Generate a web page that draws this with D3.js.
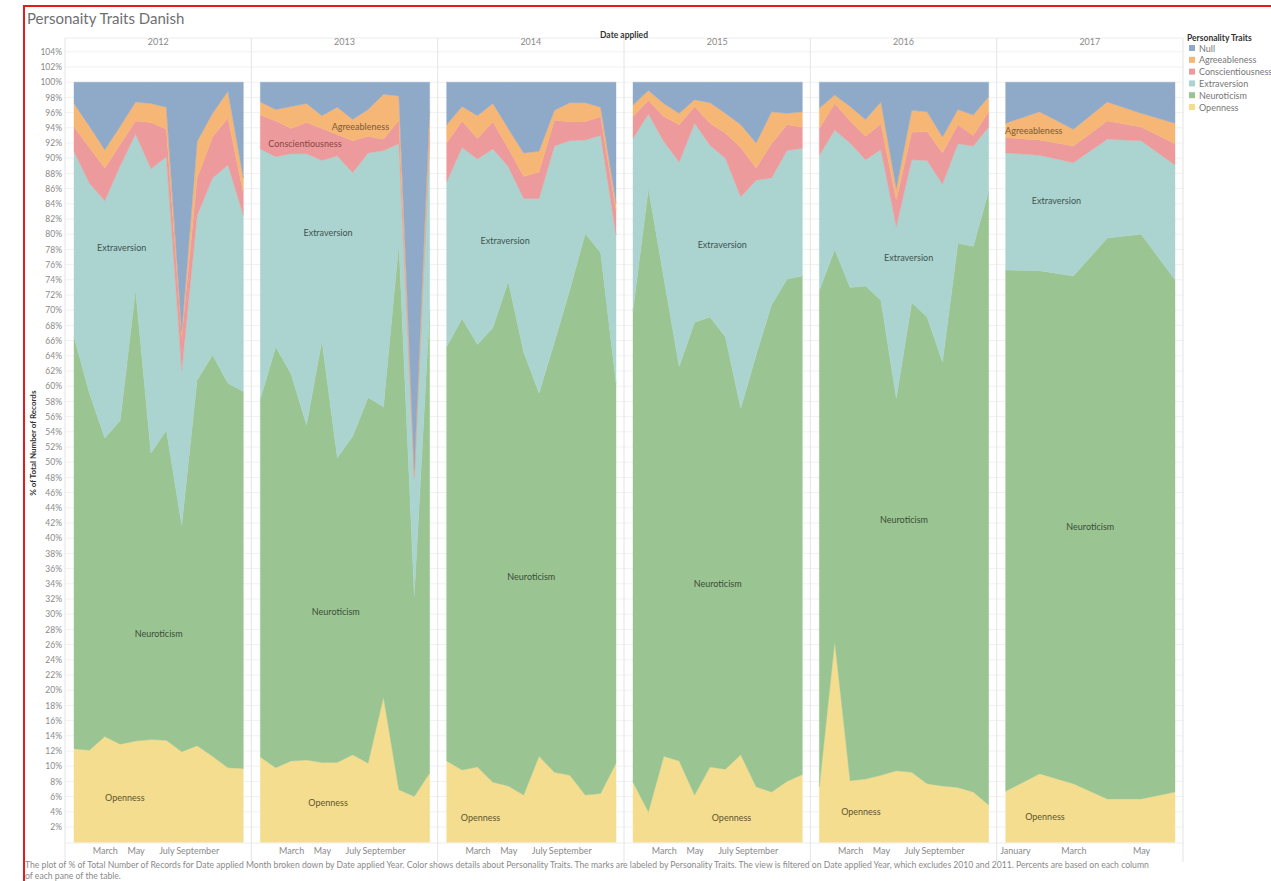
<!DOCTYPE html>
<html>
<head>
<meta charset="utf-8">
<script src="https://cdn.jsdelivr.net/npm/d3@7"></script>
<style>
  html, body { margin: 0; padding: 0; background: #fff; }
  svg { display: block; font-family: Lato, "Open Sans", sans-serif; }
</style>
</head>
<body>
<svg id="chart" width="1271" height="881"></svg>
<script>
// Share of applicants per personality trait, by month, for each application year (percent of column).
const years = ["2012", "2013", "2014", "2015", "2016", "2017"];
const monthNames = ["January", "February", "March", "April", "May", "June",
                    "July", "August", "September", "October", "November", "December"];
const monthsPerYear = [12, 12, 12, 12, 12, 6];
const traits = ["Openness", "Neuroticism", "Extraversion", "Conscientiousness", "Agreeableness", "Null"];
const legendOrder = ["Null", "Agreeableness", "Conscientiousness", "Extraversion", "Neuroticism", "Openness"];

// one row per year, one value per month
const openness = [
  [12.3, 12.1, 13.9, 12.9, 13.3, 13.5, 13.4, 11.9, 12.7, 11.3, 9.8, 9.7],
  [11.2, 9.8, 10.7, 10.8, 10.5, 10.5, 11.5, 10.4, 19.1, 6.9, 6.0, 9.1],
  [10.7, 9.5, 9.9, 7.9, 7.4, 6.2, 11.3, 9.2, 8.8, 6.2, 6.4, 10.4],
  [7.9, 4.0, 11.3, 10.7, 6.2, 9.9, 9.6, 11.5, 7.3, 6.6, 8.0, 8.9],
  [7.3, 26.4, 8.1, 8.3, 8.8, 9.4, 9.2, 7.7, 7.4, 7.2, 6.6, 4.9],
  [6.7, 9.0, 7.7, 5.7, 5.7, 6.6]
];
const neuroticism = [
  [54.2, 47.0, 39.3, 42.6, 59.4, 37.7, 40.8, 29.8, 48.1, 52.8, 50.6, 49.6],
  [47.1, 55.4, 50.9, 44.1, 55.5, 40.1, 41.9, 48.1, 38.2, 71.9, 26.4, 60.9],
  [54.5, 59.4, 55.6, 59.8, 66.4, 58.3, 47.8, 56.6, 63.9, 73.9, 71.2, 50.0],
  [62.1, 82.0, 63.0, 51.9, 62.2, 59.2, 56.9, 45.6, 56.8, 64.1, 66.1, 65.6],
  [65.3, 51.6, 64.9, 64.9, 62.5, 49.0, 61.8, 61.4, 55.8, 71.6, 71.8, 80.8],
  [68.6, 66.2, 66.8, 73.8, 74.3, 67.4]
];
const extraversion = [
  [24.4, 27.6, 31.2, 33.5, 20.5, 37.4, 36.0, 20.4, 21.7, 23.3, 28.7, 23.2],
  [32.9, 25.0, 29.0, 35.7, 23.7, 39.7, 34.7, 32.2, 33.7, 13.1, 15.6, 22.5],
  [21.7, 22.5, 24.4, 23.5, 15.1, 20.2, 25.6, 25.8, 19.6, 12.3, 15.4, 19.5],
  [22.6, 9.8, 17.9, 26.9, 26.2, 22.6, 23.5, 27.8, 23.0, 16.7, 16.9, 16.8],
  [17.8, 15.7, 19.0, 16.6, 19.8, 22.6, 18.8, 20.6, 23.4, 13.1, 13.2, 8.4],
  [15.4, 15.2, 14.9, 13.0, 12.3, 15.1]
];
const conscientiousness = [
  [3.2, 4.7, 4.3, 2.8, 1.7, 6.1, 3.6, 4.4, 4.9, 5.4, 6.2, 2.9],
  [4.5, 4.7, 3.3, 4.1, 4.2, 2.8, 4.2, 2.2, 1.5, 3.1, 0.5, 1.0],
  [5.1, 3.5, 2.7, 3.6, 2.4, 2.9, 3.5, 3.4, 2.5, 2.4, 2.5, 3.3],
  [2.9, 1.8, 3.3, 4.9, 2.2, 2.9, 3.3, 6.5, 1.6, 4.5, 3.4, 2.8],
  [3.5, 3.5, 2.9, 3.1, 3.4, 3.5, 3.6, 3.8, 4.1, 2.5, 1.4, 2.0],
  [2.0, 2.0, 2.2, 2.4, 1.8, 2.8]
];
const agreeableness = [
  [3.1, 2.8, 2.4, 2.4, 2.5, 2.5, 2.9, 0.7, 4.8, 3.1, 3.5, 2.0],
  [1.7, 1.5, 2.9, 2.5, 1.7, 3.6, 2.8, 3.5, 5.9, 3.2, 0.5, 2.8],
  [2.4, 1.9, 3.0, 2.4, 2.6, 3.1, 2.7, 1.3, 2.5, 2.5, 1.2, 0.9],
  [1.5, 1.3, 1.7, 1.5, 0.9, 2.7, 2.6, 3.0, 3.3, 4.2, 1.5, 2.0],
  [2.7, 1.1, 1.9, 2.2, 2.9, 1.5, 2.9, 2.6, 2.1, 2.0, 2.7, 2.0],
  [1.9, 3.7, 2.2, 2.5, 1.8, 2.7]
];
const nullTrait = [
  [2.8, 5.8, 8.9, 5.8, 2.6, 2.8, 3.3, 32.8, 7.8, 4.1, 1.2, 12.6],
  [2.6, 3.6, 3.2, 2.8, 4.4, 3.3, 4.9, 3.6, 1.6, 1.8, 51.0, 3.7],
  [5.6, 3.2, 4.4, 2.8, 6.1, 9.3, 9.1, 3.7, 2.7, 2.7, 3.3, 15.9],
  [3.0, 1.1, 2.8, 4.1, 2.3, 2.7, 4.1, 5.6, 8.0, 3.9, 4.1, 3.9],
  [3.4, 1.7, 3.2, 4.9, 2.6, 14.0, 3.7, 3.9, 7.2, 3.6, 4.3, 1.9],
  [5.4, 3.9, 6.2, 2.6, 4.1, 5.4]
];

// x-axis month labels (month index within each pane)
const axisMonths = [[2, 4, 6, 8], [2, 4, 6, 8], [2, 4, 6, 8], [2, 4, 6, 8], [2, 4, 6, 8], [0, 2, 4]];
const yTicks = d3.range(2, 105, 2);

// mark labels: pane, trait, month position, percent height
const markLabels = [
  ["2012", "Extraversion", 3.1, 78.2], ["2012", "Neuroticism", 5.5, 27.4], ["2012", "Openness", 3.3, 5.9],
  ["2013", "Conscientiousness", 2.9, 91.9], ["2013", "Agreeableness", 6.5, 94.2],
  ["2013", "Extraversion", 4.4, 80.2], ["2013", "Neuroticism", 4.9, 30.3], ["2013", "Openness", 4.4, 5.2],
  ["2014", "Extraversion", 3.8, 79.2], ["2014", "Neuroticism", 5.5, 35.0], ["2014", "Openness", 2.2, 3.3],
  ["2015", "Extraversion", 5.8, 78.6], ["2015", "Neuroticism", 5.5, 34.0], ["2015", "Openness", 6.4, 3.3],
  ["2016", "Extraversion", 5.8, 77.0], ["2016", "Neuroticism", 5.5, 42.4], ["2016", "Openness", 2.7, 4.0],
  ["2017", "Agreeableness", 0.83, 93.6], ["2017", "Extraversion", 1.5, 84.4],
  ["2017", "Neuroticism", 2.5, 41.5], ["2017", "Openness", 1.16, 3.4]
];

const colors = {
  "Null": "#8fa9c8",
  "Agreeableness": "#f5b676",
  "Conscientiousness": "#ec9a9b",
  "Extraversion": "#abd3cf",
  "Neuroticism": "#9ac592",
  "Openness": "#f4dd8f"
};
const labelColors = {
  "Null": "#3e5570",
  "Agreeableness": "#7d5a33",
  "Conscientiousness": "#8a4546",
  "Extraversion": "#3f5553",
  "Neuroticism": "#3c4d38",
  "Openness": "#5e5530"
};

const seriesByTrait = {
  "Openness": openness, "Neuroticism": neuroticism, "Extraversion": extraversion,
  "Conscientiousness": conscientiousness, "Agreeableness": agreeableness, "Null": nullTrait
};

const svg = d3.select("#chart");

// outer frame
svg.append("path")
  .attr("d", "M24,881 L24,6 L1271,6")
  .attr("fill", "none").attr("stroke", "#e8191c").attr("stroke-width", 2);

svg.append("text").attr("x", 27).attr("y", 24)
  .attr("font-size", 15).attr("fill", "#6f6f6f").text("Personaity Traits Danish");

const paneLeft = 65, paneRight = 1183, plotTop = 38, plotBottom = 843;
const xPane = d3.scaleBand().domain(years).range([paneLeft, paneRight]);
const y = d3.scaleLinear().domain([0, 100]).range([842.2, 82.2]);

// horizontal gridlines
svg.append("g").selectAll("line").data(yTicks).join("line")
  .attr("x1", paneLeft).attr("x2", paneRight)
  .attr("y1", d => y(d)).attr("y2", d => y(d))
  .attr("stroke", "#f1f1f1").attr("stroke-width", 1);

svg.append("line").attr("x1", paneLeft).attr("x2", paneRight)
  .attr("y1", plotTop).attr("y2", plotTop).attr("stroke", "#ececec");
svg.append("line").attr("x1", paneLeft).attr("x2", paneRight)
  .attr("y1", plotBottom).attr("y2", plotBottom).attr("stroke", "#ececec");

// column header
svg.append("text").attr("x", (paneLeft + paneRight) / 2).attr("y", 38)
  .attr("text-anchor", "middle").attr("font-size", 8.5).attr("font-weight", "bold")
  .attr("fill", "#333").text("Date applied");

// y axis
const yAxis = svg.append("g").attr("transform", `translate(${paneLeft - 1},0)`)
  .call(d3.axisLeft(y).tickValues(yTicks).tickSize(0).tickPadding(2).tickFormat(d => d + "%"));
yAxis.select(".domain").remove();
yAxis.selectAll("text").attr("font-size", 8.5).attr("fill", "#8a8a8a")
  .attr("font-family", "Lato, 'Open Sans', sans-serif");

svg.append("text")
  .attr("transform", `translate(36,${y(52.5)}) rotate(-90)`)
  .attr("text-anchor", "middle").attr("font-size", 8).attr("font-weight", "bold")
  .attr("fill", "#333").text("% of Total Number of Records");

const stack = d3.stack().keys(traits);

years.forEach((yr, yi) => {
  const x0 = xPane(yr);
  const n = monthsPerYear[yi];
  const x = d3.scaleLinear().domain([0, n - 1]).range([x0 + 9, x0 + xPane.bandwidth() - 8]);
  const rows = d3.range(n).map(i => {
    const r = { month: i };
    traits.forEach(t => { r[t] = seriesByTrait[t][yi][i]; });
    return r;
  });
  const layers = stack(rows);
  const area = d3.area()
    .x(d => x(d.data.month))
    .y0(d => y(d[0]))
    .y1(d => y(d[1]));

  const g = svg.append("g");
  g.selectAll("path").data(layers).join("path")
    .attr("d", area)
    .attr("fill", d => colors[d.key])
    .attr("stroke", d => colors[d.key])
    .attr("stroke-width", 0.4);

  // year header
  svg.append("text").attr("x", x0 + xPane.bandwidth() / 2).attr("y", 45)
    .attr("text-anchor", "middle").attr("font-size", 9).attr("fill", "#8a8a8a").text(yr);

  // month axis
  const ax = svg.append("g").attr("transform", `translate(0,${plotBottom})`)
    .call(d3.axisBottom(x).tickValues(axisMonths[yi]).tickSize(0).tickPadding(5)
      .tickFormat(i => monthNames[i]));
  ax.select(".domain").remove();
  ax.selectAll("text").attr("font-size", 9).attr("fill", "#8a8a8a")
    .attr("font-family", "Lato, 'Open Sans', sans-serif")
    .each(function () {
      const b = this.getBBox();
      const tx = x(+d3.select(this.parentNode).datum());
      if (tx + b.x < x0 + 3) d3.select(this).attr("dx", (x0 + 3) - (tx + b.x));
    });

  // mark labels
  markLabels.filter(l => l[0] === yr).forEach(([, trait, m, v]) => {
    svg.append("text").attr("x", x(m)).attr("y", y(v))
      .attr("text-anchor", "middle").attr("dominant-baseline", "central")
      .attr("font-size", 9).attr("fill", labelColors[trait]).text(trait);
  });
});

// pane separators
svg.append("g").selectAll("line").data(years.map(yr => xPane(yr)).concat([paneRight])).join("line")
  .attr("x1", d => d).attr("x2", d => d).attr("y1", plotTop).attr("y2", 862)
  .attr("stroke", "#e4e4e4").attr("stroke-width", 1);

// legend
const lg = svg.append("g").attr("transform", "translate(1187,0)");
lg.append("text").attr("x", 0).attr("y", 41).attr("font-size", 8.5).attr("font-weight", "bold")
  .attr("fill", "#333").text("Personality Traits");
legendOrder.forEach((t, i) => {
  const yy = 48 + i * 11.8;
  lg.append("rect").attr("x", 2).attr("y", yy - 3).attr("width", 6).attr("height", 6).attr("fill", colors[t]);
  lg.append("text").attr("x", 12).attr("y", yy).attr("dominant-baseline", "central")
    .attr("font-size", 9).attr("fill", "#777").text(t);
});

// caption
const caption = svg.append("text").attr("font-size", 8.65).attr("fill", "#8a8a8a");
caption.append("tspan").attr("x", 25).attr("y", 868)
  .text("The plot of % of Total Number of Records for Date applied Month broken down by Date applied Year.  Color shows details about Personality Traits.  The marks are labeled by Personality Traits. The view is filtered on Date applied Year, which excludes 2010 and 2011. Percents are based on each column");
caption.append("tspan").attr("x", 25).attr("y", 879).text("of each pane of the table.");
</script>
</body>
</html>
